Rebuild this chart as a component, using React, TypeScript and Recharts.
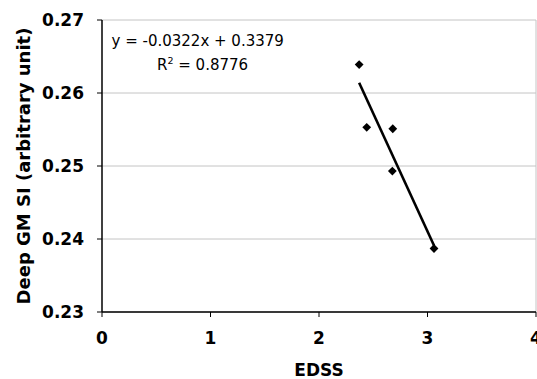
import React from 'react';
import {
  ScatterChart,
  Scatter,
  XAxis,
  YAxis,
  CartesianGrid,
  ReferenceLine,
  Customized,
} from 'recharts';

// Observed data points (EDSS vs Deep GM SI)
const edss = [2.37, 2.44, 2.68, 2.676, 3.06];
const deepGmSi = [0.2639, 0.2553, 0.2551, 0.2493, 0.2387];

// Trend line endpoints as drawn
const trendEdss = [2.37, 3.06];
const trendSi = [0.2614, 0.2391];

const xTicks = [0, 1, 2, 3, 4];
const yTicks = [0.23, 0.24, 0.25, 0.26, 0.27];

const equationText = 'y = -0.0322x + 0.3379';
const r2Value = '0.8776';
const xLabel = 'EDSS';
const yLabel = 'Deep GM SI (arbitrary unit)';

const points = edss.map((x, i) => ({ x, y: deepGmSi[i] }));
const trend = trendEdss.map((x, i) => ({ x, y: trendSi[i] }));

const FONT = '"DejaVu Sans", Verdana, sans-serif';

const Diamond = (props: any) => {
  const { cx, cy } = props;
  if (cx == null || cy == null) return <g />;
  const h = 4.4;
  return (
    <polygon
      points={`${cx},${cy - h} ${cx + h},${cy} ${cx},${cy + h} ${cx - h},${cy}`}
      fill="#000"
    />
  );
};

const NoShape = () => <g />;

const YLabelContent = (props: any) => {
  const vb = props.viewBox || {};
  const cx = (vb.x ?? 0) + 30;
  const cy = (vb.y ?? 0) + (vb.height ?? 0) / 2;
  return (
    <text
      x={cx}
      y={cy}
      transform={`rotate(-90, ${cx}, ${cy})`}
      textAnchor="middle"
      fontFamily={FONT}
      fontWeight="bold"
      fontSize={18}
      fill="#000"
    >
      {yLabel}
    </text>
  );
};

const Annotation = () => (
  <g fontFamily={FONT} fill="#000">
    <text x={111.5} y={46} fontSize={15}>
      {equationText}
    </text>
    <text x={157} y={70} fontSize={15}>
      R
      <tspan dy={-6} fontSize={9.5}>
        2
      </tspan>
      <tspan dy={6}>{` = ${r2Value}`}</tspan>
    </text>
  </g>
);

export default function App() {
  return (
    <div style={{ position: 'absolute', left: 0, top: 0, background: '#fff' }}>
      <ScatterChart
        width={537}
        height={379}
        margin={{ top: 20, right: 1, bottom: 0, left: 0 }}
        style={{ fontFamily: FONT }}
      >
        <CartesianGrid vertical={false} stroke="#c4c4c4" strokeWidth={1} />
        <XAxis
          type="number"
          dataKey="x"
          domain={[0, 4]}
          ticks={xTicks}
          height={67}
          axisLine={{ stroke: '#000', strokeWidth: 1.5 }}
          tickLine={{ stroke: '#000', strokeWidth: 1 }}
          tickSize={5}
          tickMargin={15}
          tick={{ fill: '#000', fontSize: 17, fontWeight: 'bold', fontFamily: FONT }}
          interval={0}
          allowDataOverflow
          label={{
            value: xLabel,
            position: 'insideBottom',
            offset: 3,
            fill: '#000',
            fontSize: 17,
            fontWeight: 'bold',
            fontFamily: FONT,
          }}
        />
        <YAxis
          type="number"
          dataKey="y"
          domain={[0.23, 0.27]}
          ticks={yTicks}
          width={102}
          axisLine={{ stroke: '#000', strokeWidth: 1.5 }}
          tickLine={{ stroke: '#000', strokeWidth: 1 }}
          tickSize={5}
          tickMargin={13}
          tick={{ fill: '#000', fontSize: 17, fontWeight: 'bold', fontFamily: FONT }}
          tickFormatter={(v: number) => v.toFixed(2)}
          interval={0}
          allowDataOverflow
          label={<YLabelContent />}
        />
        <ReferenceLine x={4} stroke="#c4c4c4" strokeWidth={1} />
        <Scatter
          data={trend}
          shape={NoShape}
          line={{ stroke: '#000', strokeWidth: 2.6 }}
          lineType="joint"
          isAnimationActive={false}
        />
        <Scatter data={points} shape={Diamond} isAnimationActive={false} />
        <Customized component={Annotation} />
      </ScatterChart>
    </div>
  );
}
